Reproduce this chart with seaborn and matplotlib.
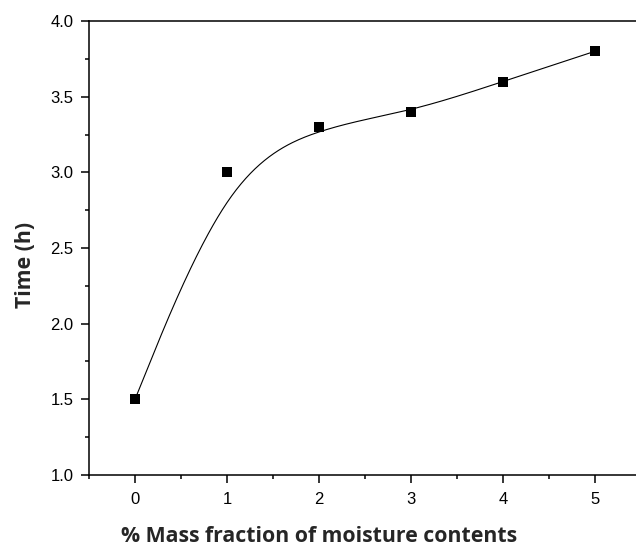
import numpy as np
import pandas as pd
import matplotlib
matplotlib.use("Agg")
import matplotlib.pyplot as plt
import seaborn as sns

# Moisture content (% mass fraction) and time (h)
moisture = [0, 1, 2, 3, 4, 5]
time_h = [1.5, 3.0, 3.3, 3.4, 3.6, 3.8]

x_ticks = [0, 1, 2, 3, 4, 5]
y_ticks = [1.0, 1.5, 2.0, 2.5, 3.0, 3.5, 4.0]

df = pd.DataFrame({"moisture": moisture, "time": time_h})


def bspline_curve(px, py, per_segment=60):
    """Uniform cubic B-spline with the data points as control points;
    end points are tripled so the curve starts and ends on them."""
    pts = np.column_stack([px, py]).astype(float)
    pts = np.vstack([pts[:1], pts[:1], pts, pts[-1:], pts[-1:]])
    basis = np.array([[-1, 3, -3, 1],
                      [3, -6, 3, 0],
                      [-3, 0, 3, 0],
                      [1, 4, 1, 0]]) / 6.0
    u = np.linspace(0, 1, per_segment)
    U = np.column_stack([u ** 3, u ** 2, u, np.ones_like(u)])
    segs = []
    for i in range(len(pts) - 3):
        segs.append(U @ basis @ pts[i:i + 4])
    out = np.vstack(segs)
    return out[:, 0], out[:, 1]


sns.set_theme(style="ticks")
plt.rcParams["font.family"] = ["Liberation Sans", "DejaVu Sans"]

fig = plt.figure(figsize=(6.36, 5.48), dpi=100)
ax = fig.add_axes([89 / 636, 1 - 475 / 548, 552 / 636, 454 / 548])

cx, cy = bspline_curve(moisture, time_h)
curve = pd.DataFrame({"moisture": cx, "time": cy})
sns.lineplot(data=curve, x="moisture", y="time", ax=ax, color="black",
             linewidth=0.8, sort=False, estimator=None)
sns.scatterplot(data=df, x="moisture", y="time", ax=ax, marker="s",
                color="black", s=52, edgecolor="black", linewidth=0, zorder=3)

ax.set_xlim(-0.5, 5.5)
ax.set_ylim(1.0, 4.0)
ax.set_xticks(x_ticks)
ax.set_xticklabels([str(v) for v in x_ticks])
ax.set_yticks(y_ticks)
ax.set_yticklabels([f"{v:.1f}" for v in y_ticks])
ax.set_xticks(np.arange(-0.5, 5.51, 0.5), minor=True)
ax.set_yticks(np.arange(1.0, 4.01, 0.25), minor=True)

ax.tick_params(axis="both", which="major", direction="out", length=6,
               width=1.1, color="black", labelsize=12, pad=5,
               labelcolor="black")
ax.tick_params(axis="x", which="major", pad=6)
ax.tick_params(axis="both", which="minor", direction="out", length=3,
               width=1.1, color="black")

for side in ["left", "bottom", "top", "right"]:
    ax.spines[side].set_visible(True)
    ax.spines[side].set_linewidth(1.1)
    ax.spines[side].set_color("black")

label_font = {"family": ["Open Sans", "DejaVu Sans"], "weight": "bold",
              "size": 15.3}
ax.set_xlabel("% Mass fraction of moisture contents", fontdict=label_font)
ax.set_ylabel("Time (h)", fontdict=label_font)
ax.xaxis.set_label_coords(0.4167, -0.112)
ax.yaxis.set_label_coords(-0.096, 0.4626)

fig.savefig("out.png", dpi=100)
